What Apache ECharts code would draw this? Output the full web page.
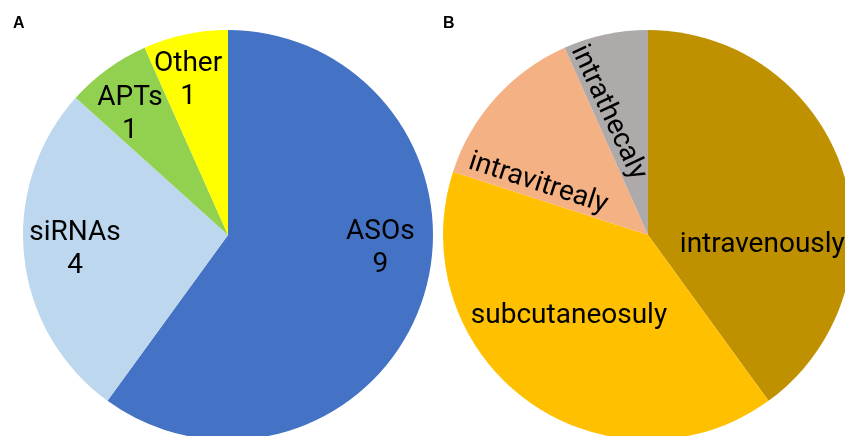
<!DOCTYPE html>
<html><head><meta charset="utf-8">
<script src="https://cdn.jsdelivr.net/npm/echarts@6/dist/echarts.min.js"></script>
<style>html,body{margin:0;padding:0;background:#fff}#c{width:845px;height:436px}</style>
</head><body><div id="c"></div>
<script>
// Panel A
const catsA = ['ASOs', 'siRNAs', 'APTs', 'Other'];
const valsA = [9, 4, 1, 1];
// Panel B
const catsB = ['intravenously', 'subcutaneosuly', 'intravitrealy', 'intrathecaly'];
const valsB = [6, 6, 2, 1];

const colorsA = ['#4472C4', '#BDD7EE', '#92D050', '#FFFF00'];
const colorsB = ['#BF9000', '#FFC000', '#F4B183', '#AEAAAA'];
const showValA = true;
// label nudges (px, in the label's own rotated frame) and rotations
const nudgeA = [[52, -19], [-48, 3], [-36, -35], [-18, -51]];
const nudgeB = [[14, 43], [-17, -4], [-24, 28], [-25, 8]];
const rotB = [0, 0, -18, -65];

const R = 205;
const font = 'Roboto';
const chart = echarts.init(document.getElementById('c'), null, {renderer: 'canvas'});

function mk(cats, vals, colors, withVal, rots) {
  return cats.map((n, i) => ({
    name: n, value: vals[i],
    itemStyle: {color: colors[i]},
    label: {
      formatter: withVal ? '{b}\n{c}' : '{b}',
      rotate: rots ? rots[i] : 0
    }
  }));
}

const titleStyle = {fontFamily: 'Liberation Sans', fontWeight: 'bold', fontSize: 16, color: '#000'};
chart.setOption({
  animation: false,
  title: [
    {text: 'A', left: 13, top: 16, padding: 0, textStyle: titleStyle},
    {text: 'B', left: 443, top: 16, padding: 0, textStyle: titleStyle}
  ],
  series: [
    {
      type: 'pie', center: [228, 235], radius: [0, R], startAngle: 90, clockwise: true,
      silent: true,
      itemStyle: {borderWidth: 0},
      label: {position: 'inside', fontFamily: font, fontSize: 28, lineHeight: 33, color: '#000'},
      labelLine: {show: false},
      labelLayout: p => ({dx: nudgeA[p.dataIndex][0], dy: nudgeA[p.dataIndex][1]}),
      data: mk(catsA, valsA, colorsA, showValA)
    },
    {
      type: 'pie', center: [648, 235], radius: [0, R], startAngle: 90, clockwise: true,
      silent: true,
      itemStyle: {borderWidth: 0},
      label: {position: 'inside', fontFamily: font, fontSize: 28, lineHeight: 33, color: '#000'},
      labelLine: {show: false},
      labelLayout: p => ({dx: nudgeB[p.dataIndex][0], dy: nudgeB[p.dataIndex][1]}),
      data: mk(catsB, valsB, colorsB, false, rotB)
    }
  ]
});
</script></body></html>
